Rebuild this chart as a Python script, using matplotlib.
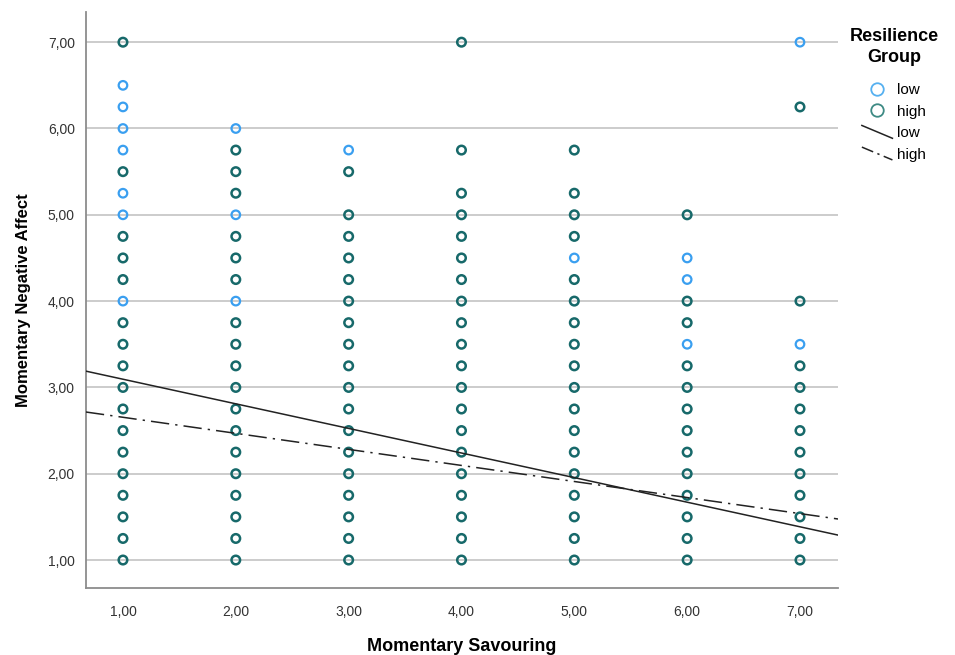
import numpy as np
import matplotlib.pyplot as plt
from matplotlib.lines import Line2D
from matplotlib.legend_handler import HandlerLine2D

plt.rcParams['font.family'] = ['Liberation Sans', 'DejaVu Sans']

# Momentary savouring vs negative affect, split by resilience group
x_levels = [1, 2, 3, 4, 5, 6, 7]

# values where only the low-resilience group shows (light blue)
low_pts = {
    1: [6.50, 6.25, 6.00, 5.75, 5.25, 5.00, 4.00],
    2: [6.00, 5.00, 4.00],
    3: [5.75],
    4: [],
    5: [4.50],
    6: [4.50, 4.25, 3.50],
    7: [7.00, 3.50],
}

# values where the high-resilience group shows (teal)
high_pts = {
    1: [7.00, 5.50, 4.75, 4.50, 4.25, 3.75, 3.50, 3.25, 3.00, 2.75, 2.50, 2.25,
        2.00, 1.75, 1.50, 1.25, 1.00],
    2: [5.75, 5.50, 5.25, 4.75, 4.50, 4.25, 3.75, 3.50, 3.25, 3.00, 2.75, 2.50,
        2.25, 2.00, 1.75, 1.50, 1.25, 1.00],
    3: [5.50, 5.00, 4.75, 4.50, 4.25, 4.00, 3.75, 3.50, 3.25, 3.00, 2.75, 2.50,
        2.25, 2.00, 1.75, 1.50, 1.25, 1.00],
    4: [7.00, 5.75, 5.25, 5.00, 4.75, 4.50, 4.25, 4.00, 3.75, 3.50, 3.25, 3.00,
        2.75, 2.50, 2.25, 2.00, 1.75, 1.50, 1.25, 1.00],
    5: [5.75, 5.25, 5.00, 4.75, 4.25, 4.00, 3.75, 3.50, 3.25, 3.00, 2.75, 2.50,
        2.25, 2.00, 1.75, 1.50, 1.25, 1.00],
    6: [5.00, 4.00, 3.75, 3.25, 3.00, 2.75, 2.50, 2.25, 2.00, 1.75, 1.50, 1.25,
        1.00],
    7: [6.25, 4.00, 3.25, 3.00, 2.75, 2.50, 2.25, 2.00, 1.75, 1.50, 1.25, 1.00],
}

# fit lines (intercept, slope)
fit_low = (3.38, -0.285)
fit_high = (2.84, -0.186)

tick_labels = ["1,00", "2,00", "3,00", "4,00", "5,00", "6,00", "7,00"]

low_col = "#3a9ff0"
high_col = "#17696a"


class DiagHandler(HandlerLine2D):
    # SPSS draws the fit-line keys as short diagonals
    def create_artists(self, legend, orig_handle, xdescent, ydescent,
                       width, height, fontsize, trans):
        ln = Line2D([-xdescent, -xdescent + width],
                    [-ydescent + height * 1.1, -ydescent - height * 0.1])
        self.update_prop(ln, orig_handle, legend)
        ln.set_transform(trans)
        return [ln]


fig = plt.figure(figsize=(9.55, 6.55), dpi=100)
ax = fig.add_axes([0.090, 0.1023, 0.7875, 0.8794])

xl = [x for x in x_levels for v in low_pts[x]]
yl = [v for x in x_levels for v in low_pts[x]]
xh = [x for x in x_levels for v in high_pts[x]]
yh = [v for x in x_levels for v in high_pts[x]]

ax.scatter(xl, yl, s=38, facecolors="none", edgecolors=low_col,
           linewidths=1.6, zorder=3)
ax.scatter(xh, yh, s=38, facecolors="none", edgecolors=high_col,
           linewidths=1.8, zorder=3)

xlim = (0.672, 7.337)
xs = np.array(xlim)
ax.plot(xs, fit_low[0] + fit_low[1] * xs, color="#222222", lw=1.1, zorder=4)
ax.plot(xs, fit_high[0] + fit_high[1] * xs, color="#222222", lw=1.1,
        dashes=(12, 4, 1.5, 4), zorder=4)

ax.set_xlim(*xlim)
ax.set_ylim(0.676, 7.35)
ax.set_xticks(x_levels)
ax.set_xticklabels(tick_labels)
ax.set_yticks(x_levels)
ax.set_yticklabels(tick_labels)
ax.tick_params(length=0, labelsize=10, colors="#333333", pad=8)
ax.tick_params(axis="x", pad=12)
ax.yaxis.grid(True, color="#c4c4c4", lw=1.2, zorder=0)
ax.set_axisbelow(True)
for s in ["top", "right"]:
    ax.spines[s].set_visible(False)
for s in ["left", "bottom"]:
    ax.spines[s].set_color("#8c8c8c")
    ax.spines[s].set_linewidth(1.3)

ax.set_xlabel("Momentary Savouring", fontsize=13, fontweight="bold",
              labelpad=14)
ax.set_ylabel("Momentary Negative Affect", fontsize=12, fontweight="bold",
              labelpad=12)

handles = [
    Line2D([], [], ls="none", marker="o", ms=9, mfc="none", mec="#55b0f0",
           mew=1.3),
    Line2D([], [], ls="none", marker="o", ms=9, mfc="none", mec="#3d8a84",
           mew=1.3),
    Line2D([], [], color="#222222", lw=1.1),
    Line2D([], [], color="#222222", lw=1.1, dashes=(8, 3, 1.5, 3)),
]
leg = fig.legend(handles, ["low", "high", "low", "high"],
                 title="Resilience\nGroup", loc="upper center",
                 bbox_to_anchor=(0.936, 0.967), frameon=False,
                 fontsize=11, handlelength=2.0, handletextpad=0.3,
                 labelspacing=0.5, borderaxespad=0,
                 handler_map={handles[2]: DiagHandler(),
                              handles[3]: DiagHandler()})
leg.get_title().set_fontweight("bold")
leg.get_title().set_fontsize(13)
leg.get_title().set_multialignment("center")
leg.get_title().set_linespacing(1.35)
leg._legend_box.sep = 12

fig.savefig("out.png", dpi=100)
